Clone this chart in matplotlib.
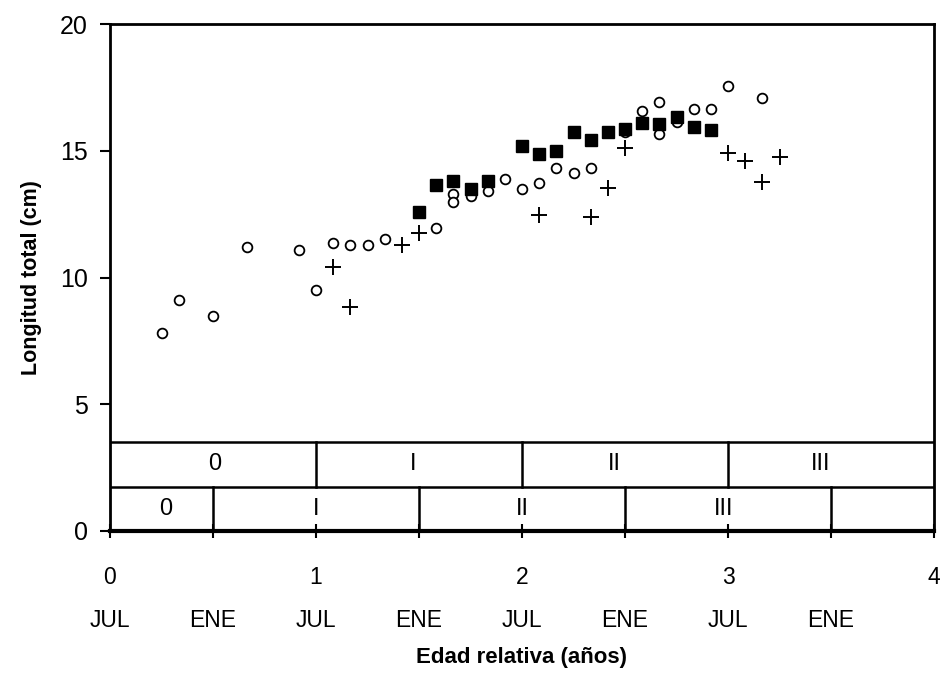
import matplotlib
matplotlib.use("Agg")
import matplotlib.pyplot as plt
from matplotlib.ticker import FixedLocator, FixedFormatter

# ---- data (age in years, total length in cm) ----
circ_x = [3/12, 4/12, 6/12, 8/12, 11/12, 12/12, 13/12, 14/12, 15/12, 16/12,
          19/12, 20/12, 20/12, 21/12, 22/12, 23/12, 24/12, 25/12, 26/12, 27/12,
          28/12, 30/12, 31/12, 32/12, 32/12, 33/12, 34/12, 35/12, 36/12, 38/12]
circ_y = [7.8, 9.1, 8.5, 11.2, 11.1, 9.5, 11.35, 11.27, 11.27, 11.5,
          11.96, 13.29, 12.98, 13.21, 13.41, 13.87, 13.49, 13.74, 14.33, 14.11,
          14.33, 15.72, 16.56, 16.94, 15.65, 16.15, 16.64, 16.64, 17.57, 17.1]

sq_x = [18/12, 19/12, 20/12, 21/12, 22/12, 24/12, 25/12, 26/12, 27/12,
        28/12, 29/12, 30/12, 31/12, 32/12, 33/12, 34/12, 35/12]
sq_y = [12.58, 13.64, 13.80, 13.50, 13.81, 15.19, 14.88, 15.0, 15.72,
        15.41, 15.72, 15.87, 16.11, 16.05, 16.32, 15.95, 15.81]

plus_x = [13/12, 14/12, 17/12, 18/12, 25/12, 28/12, 29/12, 30/12,
          36/12, 37/12, 38/12, 39/12]
plus_y = [10.41, 8.84, 11.28, 11.74, 12.45, 12.39, 13.53, 15.11,
          14.92, 14.61, 13.76, 14.77]

major_ticks = [0, 1, 2, 3, 4]
major_labels = ["0\nJUL", "1\nJUL", "2\nJUL", "3\nJUL", "4\n "]
minor_ticks = [0.5, 1.5, 2.5, 3.5]
minor_labels = [" \nENE", " \nENE", " \nENE", " \nENE"]

# age-class bands (two rows)
upper_bounds = [0, 1, 2, 3, 4]
upper_labels = ["0", "I", "II", "III"]
upper_label_x = [0.51, 1.47, 2.45, 3.45]
lower_bounds = [0, 0.5, 1.5, 2.5, 3.5, 4]
lower_labels = ["0", "I", "II", "III"]
lower_label_x = [0.27, 1.0, 2.0, 2.98]

FONT = ["Liberation Sans", "DejaVu Sans"]

fig = plt.figure(figsize=(9.4, 6.73), dpi=100)
ax = fig.add_axes([110/940, 1-531/673, (934-110)/940, (531-24)/673])

ax.plot(circ_x, circ_y, linestyle="none", marker="o", ms=7, mfc="white",
        mec="black", mew=1.3, zorder=3)
ax.plot(plus_x, plus_y, linestyle="none", marker="+", ms=12, mec="black",
        mew=1.4, zorder=4)
ax.plot(sq_x, sq_y, linestyle="none", marker="s", ms=8, mfc="black",
        mec="black", zorder=5)

# band table
ylo, ymid, yhi = 0.0, 1.75, 3.5
ax.plot([0, 4], [yhi, yhi], color="black", lw=1.8, zorder=2)
ax.plot([0, 4], [ymid, ymid], color="black", lw=1.8, zorder=2)
for b in upper_bounds[1:-1]:
    ax.plot([b, b], [ymid, yhi], color="black", lw=1.8, zorder=2)
for b in lower_bounds[1:-1]:
    ax.plot([b, b], [ylo, ymid], color="black", lw=1.8, zorder=2)
for x, t in zip(upper_label_x, upper_labels):
    ax.text(x, (ymid + yhi) / 2, t, ha="center", va="center", fontsize=17,
            family=FONT)
for x, t in zip(lower_label_x, lower_labels):
    ax.text(x, (ylo + ymid) / 2, t, ha="center", va="center", fontsize=17,
            family=FONT)

ax.set_xlim(0, 4)
ax.set_ylim(0, 20)
ax.set_yticks([0, 5, 10, 15, 20])
ax.set_yticklabels(["0", "5", "10", "15", "20"], family=FONT, fontsize=18)
ax.tick_params(axis="y", direction="out", length=7, width=1.5, pad=9)

ax.xaxis.set_major_locator(FixedLocator(major_ticks))
ax.xaxis.set_major_formatter(FixedFormatter(major_labels))
ax.xaxis.set_minor_locator(FixedLocator(minor_ticks))
ax.xaxis.set_minor_formatter(FixedFormatter(minor_labels))
for lab in ax.get_xticklabels(which="both"):
    lab.set_family(FONT)
    lab.set_fontsize(16.5)
    lab.set_linespacing(2.1)
ax.tick_params(axis="x", which="both", direction="inout", length=10,
               width=1.5, pad=20)

for s in ["top", "right", "left"]:
    ax.spines[s].set_linewidth(2)
ax.spines["bottom"].set_linewidth(3)

ax.set_xlabel("Edad relativa (años)", family=FONT, fontsize=16,
              fontweight="bold")
ax.xaxis.set_label_coords(0.5, -0.228)
ax.set_ylabel("Longitud total (cm)", family=FONT, fontsize=15.5,
              fontweight="bold")
ax.yaxis.set_label_coords(-0.083, 0.5)

fig.savefig("out.png", dpi=100)
